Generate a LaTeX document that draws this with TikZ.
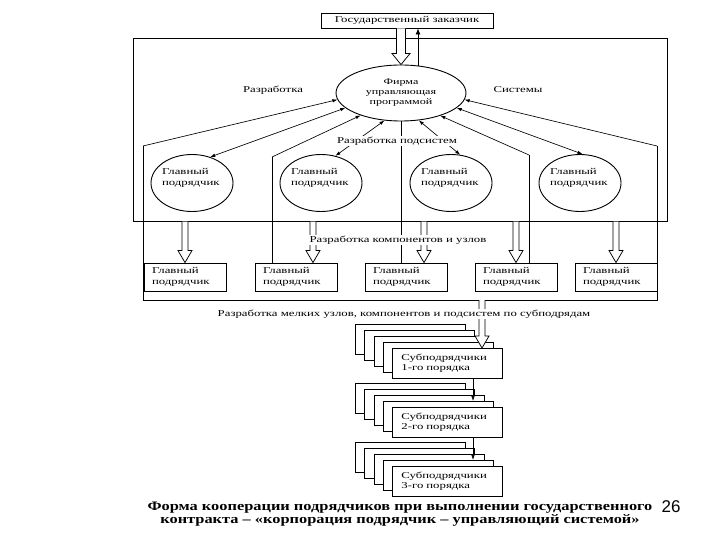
\documentclass[tikz,border=0pt]{standalone}
\usepackage{fontspec}
\setmainfont{Liberation Serif}
\newfontfamily\diag[FakeStretch=1.42]{Liberation Serif}
\newfontfamily\capfont[FakeStretch=1.26]{Liberation Serif}
\newfontfamily\numfont{Liberation Sans}
\usetikzlibrary{shapes.geometric,arrows.meta,calc}
\tikzset{
  every node/.style={font=\diag\fontsize{9}{10.5}\selectfont},
  box/.style={draw, rectangle, inner sep=0pt, line width=0.9pt},
  gellipse/.style={draw, ellipse, inner sep=0pt, minimum width=82pt, minimum height=57pt, line width=0.9pt},
  lbl/.style={fill=white, inner sep=1pt},
  tip/.style={line width=0.65pt, -{Latex[length=5pt,width=3.5pt]}},
  tips/.style={line width=0.65pt, {Latex[length=5pt,width=3.5pt]}-{Latex[length=5pt,width=3.5pt]}},
  wall/.style={line width=1pt},
}
\newcommand{\hollowarr}[5]{%
  \draw[fill=white, line width=0.75pt] let \p1=#1, \p2=#2 in
    (\x2-#3,\y1) -- (\x2-#3,\y2+#5) -- (\x2-#4,\y2+#5) -- (\x2,\y2) -- (\x2+#4,\y2+#5) -- (\x2+#3,\y2+#5) -- (\x2+#3,\y1);}
\newcommand{\substk}[3]{%
  \foreach \k in {4,3,2,1} {\node[box, fill=white, minimum width=110pt, minimum height=30pt, anchor=north west] (#1b\k) at ({392-9.25*\k},{#2-6*\k}) {};}
  \node[box, fill=white, minimum width=110pt, minimum height=30pt, anchor=north west, text width=92pt, align=left] (#1) at (392,#2) {#3};}
\begin{document}
\begin{tikzpicture}[x=1pt,y=-1pt]
\useasboundingbox (0,0) rectangle (720,540);
\fill[white] (0,0) rectangle (720,540);

% top customer and firm
\node[box, minimum width=172pt, minimum height=15pt] (gz) at (407,20.5) {Государственный заказчик};
\node[draw, ellipse, inner sep=0pt, minimum width=130pt, minimum height=56pt, line width=0.9pt, align=center, font=\diag\fontsize{8.5}{10}\selectfont] (firm) at (401,93) {Фирма\\управляющая\\программой};

% upper rectangle
\node[draw, line width=0.7pt, minimum width=534pt, minimum height=183pt, inner sep=0pt, anchor=north west] (upper) at (133,38) {};

% main contractor ellipses
\foreach \n/\cx in {1/192, 2/321, 3/451, 4/580} {
  \node[gellipse] (e\n) at (\cx,183) {};
  \node[inner sep=0pt, text width=60pt, align=left] (t\n) at ($(e\n)+(0,-5)$) {Главный\\подрядчик};
}

% main contractor boxes
\foreach \n/\cx in {1/185, 2/296, 3/406, 4/516, 5/616} {
  \node[box, minimum width=82pt, minimum height=28pt, text width=66pt, align=left] (b\n) at (\cx,277) {Главный\\подрядчик};
}

% walls (house frames)
\coordinate (olt) at (143,146);
\coordinate (ort) at (657,146);
\coordinate (ilt) at (272,157);
\coordinate (irt) at (529,155);
\coordinate (obl) at (143,300);
\coordinate (obr) at (657,300);
\draw[wall] (olt) -- (obl) -- (obr) -- (ort);
\draw[wall] (ilt) -- (ilt |- b2.north);
\draw[wall] (irt) -- (irt |- b4.north);
\draw[wall] (firm.south) -- (firm.south |- b3.north);

% connectors to the firm
\draw[tip] (olt) -- (firm.186);
\draw[tips] (e1.55) -- (firm.195);
\draw[tip] (ilt) -- (firm.209);
\draw[tips] (e2.62) -- (firm.239);
\draw[tips] (e3.72) -- (firm.303);
\draw[tip] (irt) -- (firm.330);
\draw[tips] (e4.85) -- (firm.345);
\draw[tip] (ort) -- (firm.354);

% customer <-> firm
\hollowarr{(gz.south -| firm.north)}{(firm.north)}{4.5pt}{9pt}{11pt}
\coordinate (up) at (418,0);
\draw[line width=0.8pt, -{Latex[length=6pt,width=5pt]}] (up |- firm.north) ++(0,1.5) -- (up |- gz.south);

% hollow arrows to the boxes
\coordinate (a2) at (313,0);
\coordinate (a3) at (424,0);
\hollowarr{(upper.south -| b1.north)}{(b1.north)}{3pt}{7pt}{12pt}
\hollowarr{(a2 |- upper.south)}{(a2 |- b2.north)}{3pt}{7pt}{12pt}
\hollowarr{(a3 |- upper.south)}{(a3 |- b3.north)}{3pt}{7pt}{12pt}
\hollowarr{(upper.south -| b4.north)}{(b4.north)}{3pt}{7pt}{12pt}
\hollowarr{(upper.south -| b5.north)}{(b5.north)}{3pt}{7pt}{12pt}

% subcontractor stacks
\substk{s1}{348}{Субподрядчики\\1-го порядка}
\substk{s2}{407}{Субподрядчики\\2-го порядка}
\substk{s3}{466}{Субподрядчики\\3-го порядка}
\coordinate (a6) at (482,300);
\hollowarr{(a6)}{(a6 |- s1.north)}{3pt}{7pt}{12pt}
\coordinate (sa) at (473,0);
\draw[tip] (sa |- s1.south) -- (sa |- s2b1.north);
\draw[tip] (sa |- s2.south) -- (sa |- s3b1.north);

% labels
\node[lbl] (l1) at (273,90) {Разработка};
\node[lbl] (l2) at (518,90) {Системы};
\node[lbl] (l3) at (397,141) {Разработка подсистем};
\node[lbl] (l4) at (398,240) {Разработка компонентов и узлов};
\node[lbl] (l5) at (404,314) {Разработка мелких узлов, компонентов и подсистем по субподрядам};

% caption
\node[font=\capfont\bfseries\fontsize{13}{13}\selectfont, align=center, inner sep=0pt] (cap) at (400,514.5) {Форма кооперации подрядчиков при выполнении государственного\\контракта – «корпорация подрядчик – управляющий системой»};
\node[font=\numfont\fontsize{17}{17}\selectfont, inner sep=0pt] (pg) at (671,507) {26};
\end{tikzpicture}
\end{document}
